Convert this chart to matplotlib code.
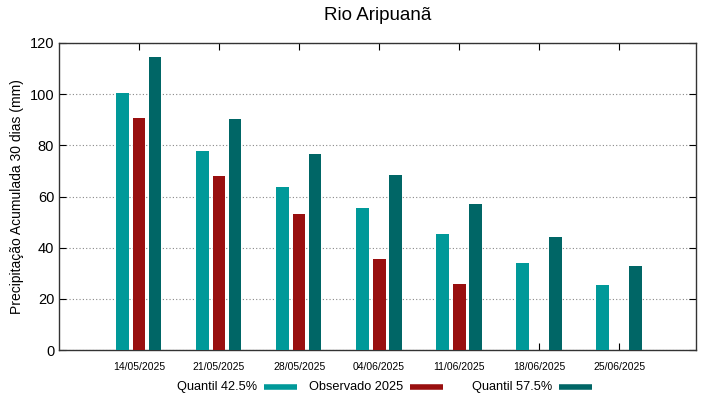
import numpy as np
import matplotlib
matplotlib.use('Agg')
import matplotlib.pyplot as plt
from matplotlib.lines import Line2D

plt.rcParams['font.family'] = ['Liberation Sans', 'DejaVu Sans']

# Data
dates = ['14/05/2025', '21/05/2025', '28/05/2025', '04/06/2025',
         '11/06/2025', '18/06/2025', '25/06/2025']
quantil_425 = [100.3, 77.8, 63.7, 55.6, 45.3, 34.1, 25.4]
observado_2025 = [90.5, 67.9, 53.2, 35.7, 25.8, np.nan, np.nan]
quantil_575 = [114.4, 90.3, 76.6, 68.4, 57.2, 44.2, 33.0]

labels = ['Quantil 42.5%', 'Observado 2025', 'Quantil 57.5%']
colors = ['#009999', '#990f0f', '#006666']

x = np.arange(1, len(dates) + 1)
w = 0.16

W, H = 719, 399
fig = plt.figure(figsize=(W / 100, H / 100), dpi=100)
ax = fig.add_axes([59 / W, 1 - 350 / H, (696 - 59) / W, (350 - 43) / H])

ax.bar(x - 0.205, quantil_425, w, color=colors[0], zorder=3)
ax.bar(x, observado_2025, w, color=colors[1], zorder=3)
ax.bar(x + 0.2, quantil_575, w, color=colors[2], zorder=3)

ax.set_xlim(0, 7.96)
ax.set_ylim(0, 120)
ax.set_yticks(range(0, 121, 20))
ax.set_xticks(x)
ax.set_xticklabels(dates, fontsize=7.5)
ax.tick_params(axis='y', labelsize=10.5)
ax.tick_params(direction='in', top=True, right=True, length=5, width=0.8)
ax.tick_params(axis='x', pad=9)
ax.yaxis.grid(True, linestyle=(0, (1, 2)), color='#888888', linewidth=0.8, zorder=0)

for s in ax.spines.values():
    s.set_linewidth(1.0)
    s.set_color('#333333')

ax.set_ylabel('Precipitação Acumulada 30 dias (mm)', fontsize=10)
fig.text(377.5 / W, 1 - 16 / H, 'Rio Aripuanã', ha='center', va='center', fontsize=13.5)

# gnuplot-style key: text then sample line
text_ends = [257, 403, 552]
ky = 1 - 387 / H
for lab, col, xe in zip(labels, colors, text_ends):
    fig.text(xe / W, ky, lab, ha='right', va='center', fontsize=9.2)
    fig.add_artist(Line2D([(xe + 7) / W, (xe + 40) / W], [ky, ky],
                          color=col, linewidth=4, solid_capstyle='butt',
                          transform=fig.transFigure))

fig.savefig('out.png', dpi=100)
